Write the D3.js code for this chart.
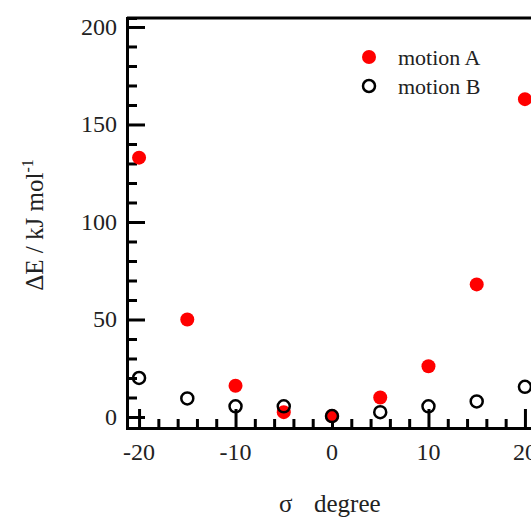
<!DOCTYPE html>
<html>
<head>
<meta charset="utf-8">
<script src="https://cdn.jsdelivr.net/npm/d3@7"></script>
<style>
  html, body { margin: 0; padding: 0; background: #fff; }
  #chart { width: 531px; height: 519px; overflow: hidden; }
  text { font-family: "Liberation Serif", "DejaVu Serif", serif; }
</style>
</head>
<body>
<div id="chart"></div>
<script>
// angle in degrees
const angles = [-20, -15, -10, -5, 0, 5, 10, 15, 20];
// energies (kJ/mol)
const motionA = [133, 50, 16, 2.5, 0.5, 10, 26, 68, 163];
const motionB = [20, 9.5, 5.5, 5.5, 0.5, 2.5, 5.5, 8, 15.5];
const yTicks = [0, 50, 100, 150, 200];
const xTicks = [-20, -10, 0, 10, 20];

const width = 531, height = 519;
const svg = d3.select('#chart').append('svg')
  .attr('width', width)
  .attr('height', height);

const x = d3.scaleLinear().domain([-21.25, 21.25]).range([127, 537]);
const y = d3.scaleLinear().domain([-5.64, 204.6]).range([428, 18]);

// frame (top line + left + bottom)
const axisW = 3;
svg.append('line')
  .attr('x1', x.range()[0]).attr('x2', x.range()[1])
  .attr('y1', y.range()[1]).attr('y2', y.range()[1])
  .attr('stroke', '#000').attr('stroke-width', axisW);

// Y axis, ticks inward
const yAxis = d3.axisRight(y)
  .tickValues(d3.range(0, 201, 10))
  .tickFormat('')
  .tickSizeOuter(0)
  .tickSize(10);
const gy = svg.append('g')
  .attr('transform', `translate(${x.range()[0]},0)`)
  .call(yAxis);
gy.selectAll('.tick line')
  .attr('x2', d => d % 50 === 0 ? 18 : 10)
  .attr('stroke-width', axisW);
gy.select('.domain').attr('stroke-width', axisW);

// X axis, ticks inward
const xAxis = d3.axisTop(x)
  .tickValues(d3.range(-20, 21, 2))
  .tickFormat('')
  .tickSizeOuter(0);
const gx = svg.append('g')
  .attr('transform', `translate(0,${y.range()[0]})`)
  .call(xAxis);
gx.selectAll('.tick line')
  .attr('y2', d => d % 10 === 0 ? -19 : -9)
  .attr('stroke-width', axisW);
gx.select('.domain').attr('stroke-width', axisW);

// tick labels
svg.append('g').selectAll('text')
  .data(yTicks)
  .join('text')
  .attr('x', 117)
  .attr('y', d => y(d))
  .attr('text-anchor', 'end')
  .attr('dominant-baseline', 'central')
  .attr('font-size', 24)
  .attr('fill', '#222')
  .text(d => d);

svg.append('g').selectAll('text')
  .data(xTicks)
  .join('text')
  .attr('x', d => x(d))
  .attr('y', 452)
  .attr('text-anchor', 'middle')
  .attr('dominant-baseline', 'central')
  .attr('font-size', 24)
  .attr('fill', '#222')
  .text(d => d);

// axis titles
const xt = svg.append('text')
  .attr('x', 279)
  .attr('y', 512)
  .attr('font-size', 25)
  .attr('fill', '#222');
xt.append('tspan').text('σ');
xt.append('tspan').attr('x', 314).text('degree');

const yt = svg.append('text')
  .attr('transform', 'translate(43,225) rotate(-90)')
  .attr('text-anchor', 'middle')
  .attr('font-size', 25)
  .attr('fill', '#222');
yt.append('tspan').text('ΔE / kJ mol');
yt.append('tspan').attr('dy', -10).attr('font-size', 16).text('-1');

// data
svg.append('g').selectAll('circle')
  .data(angles)
  .join('circle')
  .attr('cx', d => x(d))
  .attr('cy', (d, i) => y(motionA[i]))
  .attr('r', 7)
  .attr('fill', '#ff0000');

svg.append('g').selectAll('circle')
  .data(angles)
  .join('circle')
  .attr('cx', d => x(d))
  .attr('cy', (d, i) => y(motionB[i]))
  .attr('r', 6)
  .attr('fill', 'none')
  .attr('stroke', '#000')
  .attr('stroke-width', 2.5);

// legend
const legend = [
  { label: 'motion A', filled: true },
  { label: 'motion B', filled: false }
];
const lg = svg.append('g').selectAll('g')
  .data(legend)
  .join('g')
  .attr('transform', (d, i) => `translate(369,${57 + i * 29})`);
lg.append('circle')
  .attr('r', d => d.filled ? 7 : 6)
  .attr('fill', d => d.filled ? '#ff0000' : 'none')
  .attr('stroke', d => d.filled ? 'none' : '#000')
  .attr('stroke-width', 2.5);
lg.append('text')
  .attr('x', 29)
  .attr('dominant-baseline', 'central')
  .attr('font-size', 22)
  .attr('fill', '#222')
  .text(d => d.label);
</script>
</body>
</html>
